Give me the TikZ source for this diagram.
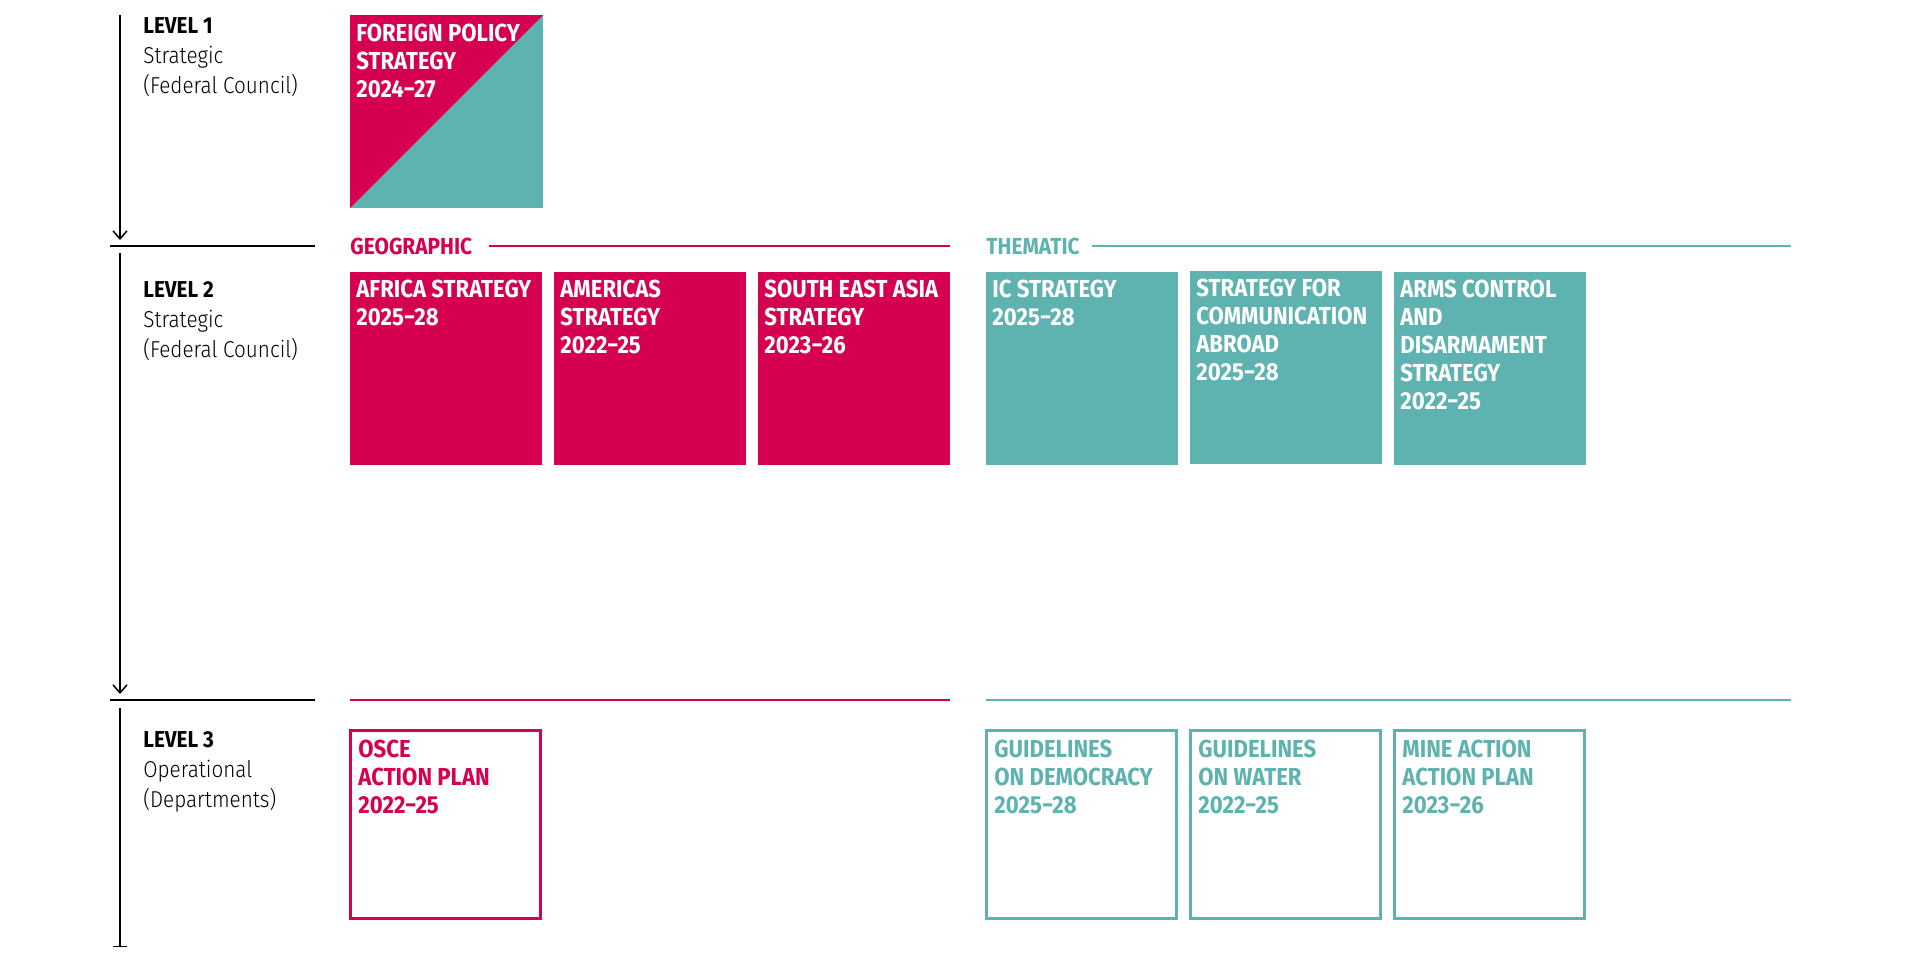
\documentclass[tikz,border=0pt]{standalone}
\usepackage{fontspec}
\setmainfont{Fira Sans}[FakeStretch=0.9]
\newfontfamily\lightfont{Fira Sans Light}[FakeStretch=0.9]
\usetikzlibrary{arrows.meta}
\definecolor{geo}{RGB}{213,0,79}
\definecolor{thema}{RGB}{94,179,177}
\tikzset{
  geobox/.style={fill=geo, anchor=north west, inner sep=0pt, minimum width=96pt, minimum height=96.5pt},
  themabox/.style={fill=thema, anchor=north west, inner sep=0pt, minimum width=96pt, minimum height=96.5pt},
  geoframe/.style={draw=geo, fill=white, line width=1.5pt, anchor=north west, inner sep=0pt, minimum width=95pt, minimum height=94pt},
  themaframe/.style={draw=thema, fill=white, line width=1.5pt, anchor=north west, inner sep=0pt, minimum width=95pt, minimum height=94pt},
  boxtext/.style={anchor=north west, inner sep=0pt, align=left, font=\fontsize{12.3}{14}\selectfont\bfseries},
  leveltext/.style={anchor=north west, inner sep=0pt, align=left, font=\fontsize{11.5}{15}\selectfont\lightfont},
  headtext/.style={anchor=west, inner sep=0pt, font=\fontsize{11.6}{13}\selectfont\bfseries},
  axis/.style={line width=0.75pt},
  rule/.style={line width=1pt},
}
\begin{document}
\begin{tikzpicture}[x=0.5pt, y=-0.5pt]
    \useasboundingbox (0,0) rectangle (1920,960);

    % left axis: three segments with level markers
    \coordinate (ax1-top) at (120,15);
    \coordinate (ax1-bot) at (120,240);
    \coordinate (ax2-top) at (120,253);
    \coordinate (ax2-bot) at (120,694);
    \coordinate (ax3-top) at (120,708);
    \coordinate (ax3-bot) at (120,947);
    \draw[axis, -{Straight Barb[length=4pt, width=7pt]}] (ax1-top) -- (ax1-bot);
    \draw[axis, -{Straight Barb[length=4pt, width=7pt]}] (ax2-top) -- (ax2-bot);
    \draw[axis, -{Bar[width=7pt]}] (ax3-top) -- (ax3-bot);

    % black rules between the levels
    \coordinate (cut1-l) at (110,246);
    \coordinate (cut1-r) at (315,246);
    \coordinate (cut2-l) at (110,700);
    \coordinate (cut2-r) at (315,700);
    \draw[rule] (cut1-l) -- (cut1-r);
    \draw[rule] (cut2-l) -- (cut2-r);

    % level labels
    \node[leveltext] (lv1) at (143,17) {{\normalfont\bfseries LEVEL 1}\\Strategic\\(Federal Council)};
    \node[leveltext] (lv2) at (143,281) {{\normalfont\bfseries LEVEL 2}\\Strategic\\(Federal Council)};
    \node[leveltext] (lv3) at (143,731) {{\normalfont\bfseries LEVEL 3}\\Operational\\(Departments)};

    % level 1: foreign policy strategy (split square)
    \coordinate (FP-nw) at (350,15);
    \coordinate (FP-ne) at (543,15);
    \coordinate (FP-sw) at (350,208);
    \coordinate (FP-se) at (543,208);
    \fill[thema] (FP-nw) rectangle (FP-se);
    \fill[geo] (FP-nw) -- (FP-ne) -- (FP-sw) -- cycle;
    \node[boxtext, text=white] (fp-t) at ([shift={(6,9)}]FP-nw) {FOREIGN POLICY\\STRATEGY\\2024−27};

    % headings with their rules
    \node[headtext, text=geo] (geo-head) at (350,246) {GEOGRAPHIC};
    \node[headtext, text=thema] (thema-head) at (986,246) {THEMATIC};
    \coordinate (geo-end) at (950,246);
    \coordinate (thema-end) at (1791,246);
    \draw[rule, geo, shorten <=8pt] (geo-head.east) -- (geo-end);
    \draw[rule, thema, shorten <=6pt] (thema-head.east) -- (thema-end);

    % level 2: geographic strategies
    \node[geobox] (africa) at (350,272) {};
    \node[geobox] (americas) at (554,272) {};
    \node[geobox] (asia) at (758,272) {};
    \node[boxtext, text=white] (africa-t) at ([shift={(6,8)}]africa.north west) {AFRICA STRATEGY\\2025−28};
    \node[boxtext, text=white] (americas-t) at ([shift={(6,8)}]americas.north west) {AMERICAS\\STRATEGY\\2022−25};
    \node[boxtext, text=white] (asia-t) at ([shift={(6,8)}]asia.north west) {SOUTH EAST ASIA\\STRATEGY\\2023−26};

    % level 2: thematic strategies
    \node[themabox] (ic) at (986,272) {};
    \node[themabox] (comm) at (1190,271) {};
    \node[themabox] (arms) at (1394,272) {};
    \node[boxtext, text=white] (ic-t) at ([shift={(6,8)}]ic.north west) {IC STRATEGY\\2025−28};
    \node[boxtext, text=white] (comm-t) at ([shift={(6,8)}]comm.north west) {STRATEGY FOR\\COMMUNICATION\\ABROAD\\2025−28};
    \node[boxtext, text=white] (arms-t) at ([shift={(6,8)}]arms.north west) {ARMS CONTROL\\AND\\DISARMAMENT\\STRATEGY\\2022−25};

    % level 3 rules
    \coordinate (geo3-l) at (350,700);
    \coordinate (geo3-r) at (950,700);
    \coordinate (thema3-l) at (986,700);
    \coordinate (thema3-r) at (1791,700);
    \draw[rule, geo] (geo3-l) -- (geo3-r);
    \draw[rule, thema] (thema3-l) -- (thema3-r);

    % level 3: operational plans
    \node[geoframe] (osce) at (349,729) {};
    \node[themaframe] (democracy) at (985,729) {};
    \node[themaframe] (water) at (1189,729) {};
    \node[themaframe] (mine) at (1393,729) {};
    \node[boxtext, text=geo] (osce-t) at ([shift={(9,11)}]osce.north west) {OSCE\\ACTION PLAN\\2022−25};
    \node[boxtext, text=thema] (democracy-t) at ([shift={(9,11)}]democracy.north west) {GUIDELINES\\ON DEMOCRACY\\2025−28};
    \node[boxtext, text=thema] (water-t) at ([shift={(9,11)}]water.north west) {GUIDELINES\\ON WATER\\2022−25};
    \node[boxtext, text=thema] (mine-t) at ([shift={(9,11)}]mine.north west) {MINE ACTION\\ACTION PLAN\\2023−26};
\end{tikzpicture}
\end{document}
